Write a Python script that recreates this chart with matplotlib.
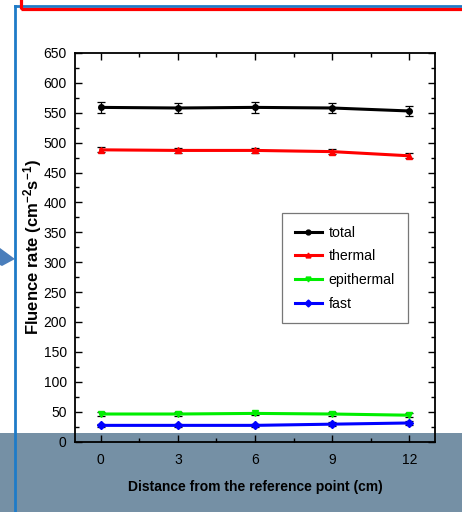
import matplotlib
matplotlib.use("Agg")
import matplotlib.pyplot as plt
from matplotlib.patches import Rectangle, Polygon
from matplotlib.lines import Line2D

distance = [0, 3, 6, 9, 12]
total = [559, 558, 559, 558, 553]
total_err = [9, 9, 9, 9, 9]
thermal = [488, 487, 487, 485, 478]
thermal_err = [4, 4, 4, 4, 4]
epithermal = [46, 46, 47, 46, 44]
epithermal_err = [3, 3, 3, 3, 3]
fast = [27, 27, 27, 29, 31]
fast_err = [3, 3, 3, 3, 3]
series_names = ["total", "thermal", "epithermal", "fast"]
xticks = [0, 3, 6, 9, 12]
yticks = list(range(0, 651, 50))

plt.rcParams['font.family'] = ['Liberation Sans', 'DejaVu Sans']
plt.rcParams['mathtext.fontset'] = 'custom'
plt.rcParams['mathtext.rm'] = 'Liberation Sans:bold'
plt.rcParams['mathtext.it'] = 'Liberation Sans:bold'
plt.rcParams['mathtext.bf'] = 'Liberation Sans:bold'

W, H = 462, 512
fig = plt.figure(figsize=(W / 100, H / 100), dpi=100)
fig.patch.set_facecolor("white")

def fx(px):
    return px / W

def fy(py):
    return 1 - py / H

# gray band at bottom
fig.patches.append(Rectangle((0, 0), 1, fy(433), transform=fig.transFigure,
                             facecolor="#7590A5", edgecolor="none", zorder=0))

ax = fig.add_axes([fx(75), fy(441.5), fx(435) - fx(75), fy(53) - fy(441.5)])
ax.set_facecolor("none")
ax.set_zorder(2)

data = [(total, total_err, "black", "o"),
        (thermal, thermal_err, "red", "^"),
        (epithermal, epithermal_err, "#00ee00", "v"),
        (fast, fast_err, "blue", "D")]
handles = []
for (vals, errs, col, mk), name in zip(data, series_names):
    ax.errorbar(distance, vals, yerr=errs, color=col, lw=2.2, marker=mk, ms=4,
                mfc=col, mec=col, ecolor="black", elinewidth=0.9, capsize=3,
                capthick=0.9, zorder=3)
    handles.append(Line2D([], [], color=col, lw=2.2, marker=mk, ms=3.5, label=name))

ax.set_xlim(-1, 13)
ax.set_ylim(0, 650)
ax.set_xticks(xticks)
ax.set_xticks([1.5, 4.5, 7.5, 10.5], minor=True)
ax.set_yticks(yticks)
ax.set_yticks(list(range(25, 650, 50)), minor=True)
ax.tick_params(which="both", direction="in", top=True, right=True, labelsize=10,
               colors="black")
ax.tick_params(which="major", length=5, width=1)
ax.tick_params(which="minor", length=3, width=1)
ax.tick_params(axis="x", pad=8)
ax.tick_params(axis="y", pad=6)
for s in ax.spines.values():
    s.set_linewidth(1.3)

ax.set_xlabel("Distance from the reference point (cm)", fontsize=10,
              fontweight="bold")
ax.xaxis.set_label_coords(0.5, -0.098)
ax.set_ylabel("Fluence rate (cm$^{-2}$s$^{-1}$)", fontsize=12,
              fontweight="bold")
ax.yaxis.set_label_coords(-0.087, 0.5)

leg = ax.legend(handles=handles, loc="upper left", bbox_to_anchor=(0.575, 0.588),
                borderaxespad=0, frameon=True, fancybox=False, edgecolor="#555555",
                fontsize=10.2, handlelength=1.9, handletextpad=0.5, labelspacing=0.68,
                borderpad=0.9)
leg.get_frame().set_linewidth(0.9)

# decorative overlays
fig.lines.append(Line2D([fx(15), fx(15)], [0, fy(6)], transform=fig.transFigure,
                        color="#1E7BC8", lw=2, zorder=5))
fig.lines.append(Line2D([fx(15), fx(462)], [fy(6), fy(6)], transform=fig.transFigure,
                        color="#1E7BC8", lw=2, zorder=5))
fig.patches.append(Rectangle((fx(21), fy(9)), 1, fy(-10) - fy(9), transform=fig.transFigure,
                             facecolor="none", edgecolor="#FF0000", lw=2.3, zorder=6))
fig.patches.append(Polygon([(fx(0), fy(248)), (fx(15), fy(259)), (fx(2), fy(266)), (fx(0), fy(265))],
                           closed=True, transform=fig.transFigure,
                           facecolor="#4A7EBB", edgecolor="none", zorder=5))

fig.savefig("out.png", dpi=100)
